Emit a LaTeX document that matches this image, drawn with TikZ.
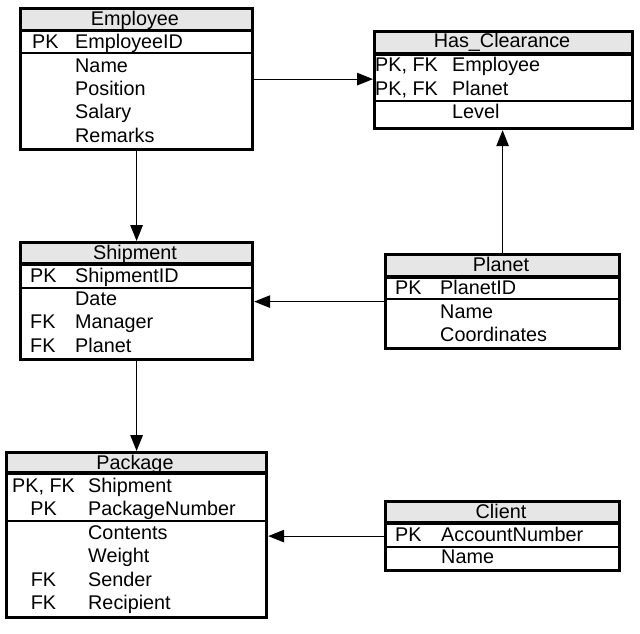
\documentclass[tikz,border=0pt]{standalone}
\usepackage{fontspec}
\setmainfont{Liberation Sans}
\usepackage{tikz}
\usetikzlibrary{arrows.meta}
\usepackage{xcolor}
\definecolor{ColHead}{RGB}{230,230,230}
\definecolor{ColInk}{RGB}{0,0,0}
\tikzstyle{TableBox}=[draw=ColInk,line width=3.2pt,inner sep=0pt,anchor=north west]
\tikzstyle{TableHead}=[fill=ColHead]
\tikzstyle{HeadRule}=[ColInk,line width=3.2pt]
\tikzstyle{KeyRule}=[ColInk,line width=1.2pt]
\tikzstyle{ErText}=[inner sep=0pt,font=\fontsize{19.8}{21}\selectfont]
\tikzstyle{HeadText}=[ErText,anchor=base]
\tikzstyle{KeyText}=[ErText,anchor=base west]
\tikzstyle{KeyMid}=[ErText,anchor=base]
\tikzstyle{FieldText}=[ErText,anchor=base west]
\tikzstyle{LinkArrow}=[ColInk,line width=1.2pt,-{Triangle[length=16pt,width=12.5pt]}]
\begin{document}
\begin{tikzpicture}[x=1pt,y=-1pt]
        \useasboundingbox (0,0) rectangle (640,633);
        % Employee
        \fill[TableHead](19,7)rectangle(251,30.5);
        \draw[HeadRule](19,30.5)--(251,30.5);
        \draw[KeyRule](19,53)--(251,53);
        \node[TableBox,minimum width=232pt,minimum height=141pt](emp)at(19,7){};
        \node[HeadText](empHead)at(135,25.5){Employee};
        \foreach \k/\f [count=\i] in {PK/EmployeeID,/Name,/Position,/Salary,/Remarks}{
            \node[KeyText](empKey\i)at(32,25.5+23.3*\i){\k};
            \node[FieldText](empField\i)at(75,25.5+23.3*\i){\f};
        }
        % Has_Clearance
        \fill[TableHead](373,30)rectangle(631,54);
        \draw[HeadRule](373,54)--(631,54);
        \draw[KeyRule](373,101)--(631,101);
        \node[TableBox,minimum width=258pt,minimum height=97pt](clr)at(373,30){};
        \node[HeadText](clrHead)at(502,47){Has\_Clearance};
        \foreach \k/\f [count=\i] in {{PK, FK}/Employee,{PK, FK}/Planet,/Level}{
            \node[KeyText](clrKey\i)at(375,48.5+23.3*\i){\k};
            \node[FieldText](clrField\i)at(452,48.5+23.3*\i){\f};
        }
        % Shipment
        \fill[TableHead](19,241)rectangle(251,264);
        \draw[HeadRule](19,264)--(251,264);
        \draw[KeyRule](19,288)--(251,288);
        \node[TableBox,minimum width=232pt,minimum height=117pt](shp)at(19,241){};
        \node[HeadText](shpHead)at(135,259){Shipment};
        \foreach \k/\f [count=\i] in {PK/ShipmentID,/Date,FK/Manager,FK/Planet}{
            \node[KeyText](shpKey\i)at(30,259+23.3*\i){\k};
            \node[FieldText](shpField\i)at(75,259+23.3*\i){\f};
        }
        % Planet
        \fill[TableHead](384,253)rectangle(618,277);
        \draw[HeadRule](384,277)--(618,277);
        \draw[KeyRule](384,299)--(618,299);
        \node[TableBox,minimum width=234pt,minimum height=94pt](pla)at(384,253){};
        \node[HeadText](plaHead)at(501,271.5){Planet};
        \foreach \k/\f [count=\i] in {PK/PlanetID,/Name,/Coordinates}{
            \node[KeyText](plaKey\i)at(395,271.5+23.3*\i){\k};
            \node[FieldText](plaField\i)at(440,271.5+23.3*\i){\f};
        }
        % Package
        \fill[TableHead](5,451)rectangle(265,473);
        \draw[HeadRule](5,473)--(265,473);
        \draw[KeyRule](5,521)--(265,521);
        \node[TableBox,minimum width=260pt,minimum height=165pt](pkg)at(5,451){};
        \node[HeadText](pkgHead)at(135,469){Package};
        \foreach \k/\f [count=\i] in {{PK, FK}/Shipment,PK/PackageNumber,/Contents,/Weight,FK/Sender,FK/Recipient}{
            \node[KeyMid](pkgKey\i)at(43.5,469+23.4*\i){\k};
            \node[FieldText](pkgField\i)at(88,469+23.4*\i){\f};
        }
        % Client
        \fill[TableHead](384,500)rectangle(618,523);
        \draw[HeadRule](384,523)--(618,523);
        \draw[KeyRule](384,547)--(618,547);
        \node[TableBox,minimum width=234pt,minimum height=69pt](cli)at(384,500){};
        \node[HeadText](cliHead)at(501,518.5){Client};
        \foreach \k/\f [count=\i] in {PK/AccountNumber,/Name}{
            \node[KeyText](cliKey\i)at(395,518.5+22.5*\i){\k};
            \node[FieldText](cliField\i)at(441,518.5+22.5*\i){\f};
        }
        % links
        \draw[LinkArrow](emp.east)--(emp.east-|clr.west);
        \draw[LinkArrow](emp.south)--(shp.north);
        \draw[LinkArrow](pla.north)--(pla.north|-clr.south);
        \draw[LinkArrow](pla.west)--(pla.west-|shp.east);
        \draw[LinkArrow](shp.south)--(pkg.north);
        \draw[LinkArrow](cli.west)--(cli.west-|pkg.east);
    \end{tikzpicture}
\end{document}
